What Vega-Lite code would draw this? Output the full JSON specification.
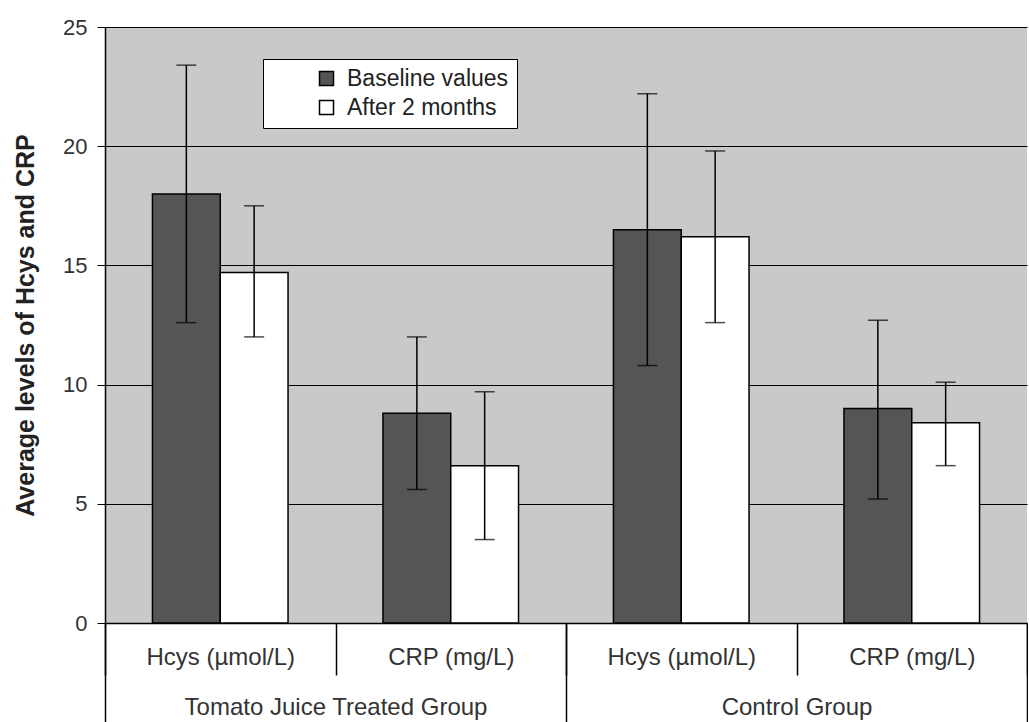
{
  "$schema": "https://vega.github.io/schema/vega-lite/v6.json",
  "width": 922,
  "height": 596,
  "padding": {"left": 13, "top": 16, "right": 0, "bottom": 0},
  "background": "white",
  "config": {
    "view": {"fill": "#c8c9cb", "stroke": null},
    "font": "Liberation Sans"
  },
  "data": {
    "values": [
      {"group": "Tomato Juice Treated Group", "cat": "T|Hcys (µmol/L)", "series": "Baseline values", "value": 18.0, "lo": 12.6, "hi": 23.4},
      {"group": "Tomato Juice Treated Group", "cat": "T|Hcys (µmol/L)", "series": "After 2 months", "value": 14.7, "lo": 12.0, "hi": 17.5},
      {"group": "Tomato Juice Treated Group", "cat": "T|CRP (mg/L)", "series": "Baseline values", "value": 8.8, "lo": 5.6, "hi": 12.0},
      {"group": "Tomato Juice Treated Group", "cat": "T|CRP (mg/L)", "series": "After 2 months", "value": 6.6, "lo": 3.5, "hi": 9.7},
      {"group": "Control Group", "cat": "C|Hcys (µmol/L)", "series": "Baseline values", "value": 16.5, "lo": 10.8, "hi": 22.2},
      {"group": "Control Group", "cat": "C|Hcys (µmol/L)", "series": "After 2 months", "value": 16.2, "lo": 12.6, "hi": 19.8},
      {"group": "Control Group", "cat": "C|CRP (mg/L)", "series": "Baseline values", "value": 9.0, "lo": 5.2, "hi": 12.7},
      {"group": "Control Group", "cat": "C|CRP (mg/L)", "series": "After 2 months", "value": 8.4, "lo": 6.6, "hi": 10.1}
    ]
  },
  "layer": [
    {
      "encoding": {
        "x": {
          "field": "cat", "type": "nominal",
          "sort": ["T|Hcys (µmol/L)", "T|CRP (mg/L)", "C|Hcys (µmol/L)", "C|CRP (mg/L)"],
          "scale": {"paddingInner": 0, "paddingOuter": 0},
          "axis": {
            "title": null,
            "labelExpr": "split(datum.label, '|')[1]",
            "tickBand": "extent",
            "tickSize": 52,
            "tickColor": "black",
            "tickWidth": 1.5,
            "domainColor": "black",
            "domainWidth": 1.5,
            "labelFontSize": 24,
            "labelColor": "#333333",
            "labelPadding": -30,
            "labelAngle": 0,
            "labelLimit": 300
          }
        },
        "xOffset": {
          "field": "series", "type": "nominal",
          "sort": ["Baseline values", "After 2 months"],
          "scale": {"paddingInner": 0, "paddingOuter": 0.7}
        }
      },
      "layer": [
        {
          "mark": {"type": "bar", "stroke": "black", "strokeWidth": 1.5},
          "encoding": {
            "y": {
              "field": "value", "type": "quantitative",
              "scale": {"domain": [0, 25], "nice": false},
              "axis": {
                "title": "Average levels of Hcys and CRP",
                "titleFontSize": 25,
                "titleFontWeight": "bold",
                "titleColor": "#222222",
                "titlePadding": 24,
                "labelFontSize": 22,
                "labelColor": "#333333",
                "labelPadding": 10,
                "tickSize": 8,
                "tickColor": "black",
                "domainColor": "black",
                "domainWidth": 1.5,
                "gridColor": "black",
                "gridWidth": 1,
                "gridOpacity": 1,
                "values": [0, 5, 10, 15, 20, 25]
              }
            },
            "fill": {
              "field": "series", "type": "nominal",
              "sort": ["Baseline values", "After 2 months"],
              "scale": {"domain": ["Baseline values", "After 2 months"], "range": ["#545557", "#ffffff"]},
              "legend": {
                "title": null,
                "orient": "none",
                "legendX": 158,
                "legendY": 32,
                "fillColor": "white",
                "strokeColor": "black",
                "padding": 8,
                "symbolType": "square",
                "symbolSize": 196,
                "symbolStrokeColor": "black",
                "symbolStrokeWidth": 1.5,
                "symbolOffset": 44,
                "labelOffset": 9,
                "labelFontSize": 23,
                "labelColor": "#222222",
                "labelLimit": 400,
                "rowPadding": 5
              }
            }
          }
        },
        {
          "mark": {"type": "rule", "color": "black", "strokeWidth": 1.5},
          "encoding": {
            "y": {"field": "lo", "type": "quantitative"},
            "y2": {"field": "hi"}
          }
        },
        {
          "mark": {"type": "tick", "orient": "horizontal", "color": "black", "size": 20, "thickness": 1.5},
          "encoding": {
            "y": {"field": "hi", "type": "quantitative"}
          }
        },
        {
          "mark": {"type": "tick", "orient": "horizontal", "color": "black", "size": 20, "thickness": 1.5},
          "encoding": {
            "y": {"field": "lo", "type": "quantitative"}
          }
        }
      ]
    },
    {
      "mark": {"type": "rule", "opacity": 0},
      "encoding": {
        "x": {
          "field": "group", "type": "nominal",
          "sort": ["Tomato Juice Treated Group", "Control Group"],
          "scale": {"paddingInner": 0, "paddingOuter": 0},
          "axis": {
            "orient": "bottom",
            "title": null,
            "tickBand": "extent",
            "tickSize": 99,
            "tickColor": "black",
            "tickWidth": 1.5,
            "domain": false,
            "labelFontSize": 24,
            "labelColor": "#333333",
            "labelPadding": -27,
            "labelAngle": 0,
            "labelLimit": 400
          }
        }
      }
    }
  ],
  "resolve": {"scale": {"x": "independent"}, "axis": {"x": "independent"}}
}
